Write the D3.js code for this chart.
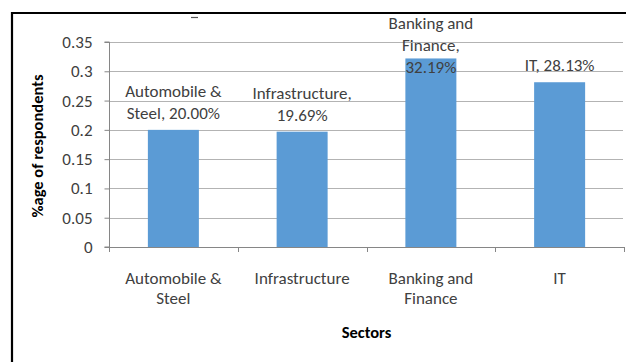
<!DOCTYPE html>
<html>
<head>
<meta charset="utf-8">
<script src="https://cdn.jsdelivr.net/npm/d3@7"></script>
<style>
  html, body { margin: 0; padding: 0; background: #fff; }
  svg { display: block; font-family: Carlito, Lato, "Open Sans", sans-serif; }
</style>
</head>
<body>
<svg id="chart" width="626" height="362"></svg>
<script>
// Share of respondents by sector
const categories = ["Automobile & Steel", "Infrastructure", "Banking and Finance", "IT"];
const categoryLines = [["Automobile &", "Steel"], ["Infrastructure"], ["Banking and", "Finance"], ["IT"]];
const values = [0.2000, 0.1969, 0.3219, 0.2813];
const valueLabelLines = [["Automobile &", "Steel, 20.00%"], ["Infrastructure,", "19.69%"], ["Banking and", "Finance,", "32.19%"], ["IT, 28.13%"]];
const yTicks = [0, 0.05, 0.1, 0.15, 0.2, 0.25, 0.3, 0.35];
const yTickLabels = ["0", "0.05", "0.1", "0.15", "0.2", "0.25", "0.3", "0.35"];

const svg = d3.select("#chart");
const W = 626, H = 362;
const plotLeft = 109, plotRight = 624, plotTop = 42, plotBottom = 247;
const fontSize = 17, lineGap = 22;
const textColor = "#404040";

const x = d3.scaleBand().domain(categories).range([plotLeft, plotRight]);
const y = d3.scaleLinear().domain([0, 0.35]).range([plotBottom, plotTop]);
const barWidth = 51;

// frame
svg.append("path")
  .attr("d", `M12,${H} L12,13 L${W},13`)
  .attr("fill", "none").attr("stroke", "#000").attr("stroke-width", 2.2);
svg.append("line")
  .attr("x1", 191).attr("x2", 198).attr("y1", 17.5).attr("y2", 17.5)
  .attr("stroke", "#555").attr("stroke-width", 1.2);

// gridlines
svg.append("g").selectAll("line").data(yTicks.filter(t => t > 0)).join("line")
  .attr("x1", plotLeft).attr("x2", plotRight - 1)
  .attr("y1", d => Math.round(y(d)) + 0.5).attr("y2", d => Math.round(y(d)) + 0.5)
  .attr("stroke", "#b3b3b3").attr("stroke-width", 1);

// y axis
const yAxis = d3.axisLeft(y).tickValues(yTicks).tickFormat((d, i) => yTickLabels[i]).tickSize(5).tickPadding(12);
const gy = svg.append("g").attr("transform", `translate(${plotLeft + 0.5},0)`).call(yAxis);
gy.select(".domain").attr("stroke", "#868686").attr("d", `M-5,${plotTop}H0V${plotBottom}H-5`);
gy.selectAll(".tick line").attr("stroke", "#868686");
gy.selectAll(".tick text").attr("fill", textColor).attr("font-size", fontSize)
  .attr("font-family", "Carlito, Lato, sans-serif");

// x axis with category-boundary ticks
svg.append("line").attr("x1", plotLeft).attr("x2", plotRight)
  .attr("y1", plotBottom + 0.5).attr("y2", plotBottom + 0.5).attr("stroke", "#868686");
const boundaries = categories.map(c => x(c)).concat([plotRight]);
svg.append("g").selectAll("line").data(boundaries).join("line")
  .attr("x1", d => Math.round(d) + 0.5).attr("x2", d => Math.round(d) + 0.5)
  .attr("y1", plotBottom).attr("y2", plotBottom + 5)
  .attr("stroke", "#868686");

const cx = i => x(categories[i]) + x.bandwidth() / 2;

// bars
svg.append("g").selectAll("rect").data(values).join("rect")
  .attr("x", (d, i) => cx(i) - barWidth / 2)
  .attr("width", barWidth)
  .attr("y", d => y(d))
  .attr("height", d => plotBottom - y(d))
  .attr("fill", "#5b9bd5");

// category labels
categoryLines.forEach((lines, i) => {
  const t = svg.append("text").attr("text-anchor", "middle").attr("fill", textColor).attr("font-size", fontSize);
  lines.forEach((l, j) => t.append("tspan").attr("x", cx(i)).attr("y", 284 + j * 20).text(l));
});

// value labels above bars, kept inside the chart frame
const minFirstBaseline = 29;
valueLabelLines.forEach((lines, i) => {
  const n = lines.length;
  const last = Math.max(y(values[i]) - 11, minFirstBaseline + (n - 1) * lineGap);
  const t = svg.append("text").attr("text-anchor", "middle").attr("fill", textColor).attr("font-size", fontSize);
  lines.forEach((l, j) => t.append("tspan").attr("x", cx(i))
    .attr("y", last - (n - 1 - j) * lineGap).text(l));
});

// axis titles
svg.append("text").attr("x", (plotLeft + plotRight) / 2).attr("y", 338).attr("text-anchor", "middle")
  .attr("font-weight", "bold").attr("font-size", 16.5).attr("fill", "#000").text("Sectors");
svg.append("text").attr("transform", "translate(43,146) rotate(-90)").attr("text-anchor", "middle")
  .attr("font-weight", "bold").attr("font-size", 16.5).attr("fill", "#000").text("%age of respondents");
</script>
</body>
</html>
